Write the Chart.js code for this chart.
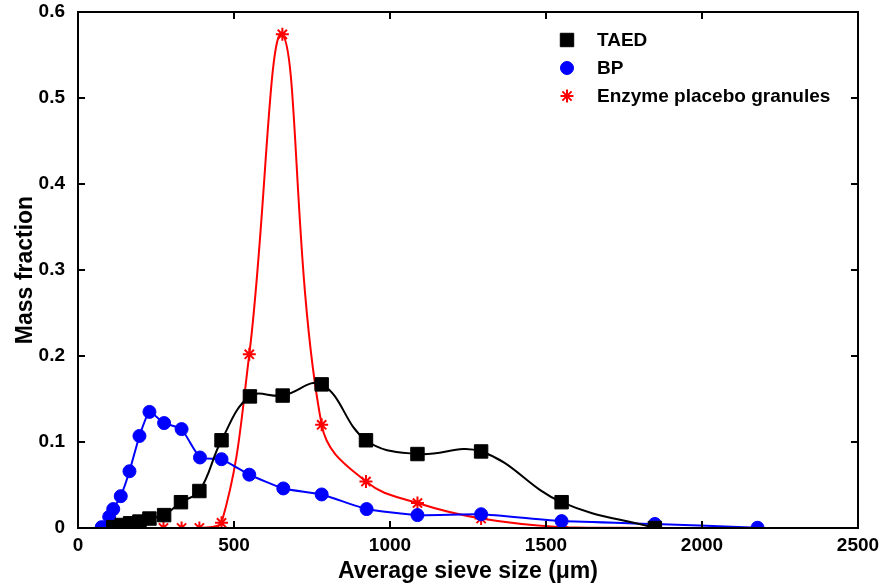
<!DOCTYPE html>
<html>
<head>
<meta charset="utf-8">
<script src="https://cdn.jsdelivr.net/npm/chart.js@4.4.1/dist/chart.umd.min.js"></script>
<style>
  body { margin: 0; background: #fff; }
  #wrap { width: 883px; height: 587px; }
</style>
</head>
<body>
<div id="wrap"><canvas id="grafico" width="883" height="587"></canvas></div>
<script>
// valori
const taedX = [113, 140, 167, 197, 229, 276, 330, 389, 460, 551, 656, 781, 923, 1088, 1292, 1550, 1849];
const taedY = [0.001, 0.0035, 0.0055, 0.0075, 0.011, 0.015, 0.030, 0.043, 0.102, 0.153, 0.154, 0.167, 0.102, 0.086, 0.089, 0.030, 0.0];

const bpX = [76, 100, 113, 137, 165, 197, 229, 276, 332, 391, 460, 549, 658, 781, 925, 1088, 1292, 1550, 1849, 2178];
const bpY = [0.001, 0.013, 0.022, 0.037, 0.066, 0.107, 0.135, 0.122, 0.115, 0.082, 0.080, 0.062, 0.046, 0.039, 0.022, 0.015, 0.016, 0.008, 0.0047, 0.0003];

const enzX = [274, 332, 389, 460, 549, 655, 781, 923, 1088, 1292, 1550, 1849];
const enzY = [0.0, 0.0, 0.0, 0.006, 0.202, 0.574, 0.120, 0.054, 0.029, 0.011, 0.001, 0.0];

const xTicks = [0, 500, 1000, 1500, 2000, 2500];
const yTicks = [0, 0.1, 0.2, 0.3, 0.4, 0.5, 0.6];

const nomi = ["TAED", "BP", "Enzyme placebo granules"];

function punti(xs, ys) {
    return xs.map(function (x, i) { return { x: x, y: ys[i] }; });
}

const FONT = "'Liberation Sans', Arial, sans-serif";

new Chart(document.getElementById("grafico"), {
    type: 'scatter',
    data: {
        datasets: [{
            label: nomi[0],
            data: punti(taedX, taedY),
            showLine: true,
            borderColor: '#000000',
            backgroundColor: '#000000',
            borderWidth: 2,
            tension: 0.4,
            pointStyle: 'rect',
            pointRadius: 9.5,
            pointBorderWidth: 1
        }, {
            label: nomi[1],
            data: punti(bpX, bpY),
            showLine: true,
            borderColor: '#0000ff',
            backgroundColor: '#0000ff',
            borderWidth: 2,
            tension: 0.15,
            pointStyle: 'circle',
            pointRadius: 6.5,
            pointBorderWidth: 1
        }, {
            label: nomi[2],
            data: punti(enzX, enzY),
            showLine: true,
            borderColor: '#ff0000',
            backgroundColor: '#ff0000',
            borderWidth: 2,
            tension: 0.4,
            pointStyle: 'star',
            pointRadius: 6.5,
            pointBorderWidth: 2
        }]
    },
    options: {
        responsive: false,
        animation: false,
        layout: { padding: { left: 0, right: 25, top: 12, bottom: 0 } },
        plugins: {
            legend: { display: false },
            tooltip: { enabled: false }
        },
        scales: {
            x: {
                type: 'linear',
                min: 0, max: 2500,
                afterBuildTicks: function (s) { s.ticks = xTicks.map(function (v) { return { value: v }; }); },
                afterFit: function (s) { s.height = 59; s.paddingLeft = 0; s.paddingRight = 0; },
                grid: { display: false, drawTicks: false },
                border: { display: false },
                ticks: {
                    color: '#000',
                    font: { family: FONT, size: 19, weight: 'bold' },
                    padding: 6,
                    maxRotation: 0,
                    callback: function (v) { return String(v); }
                },
                title: {
                    display: true,
                    text: 'Average sieve size (\u03bcm)',
                    color: '#000',
                    font: { family: FONT, size: 23, weight: 'bold' },
                    padding: { top: 0, bottom: 2 }
                }
            },
            y: {
                min: 0, max: 0.6,
                afterBuildTicks: function (s) { s.ticks = yTicks.map(function (v) { return { value: v }; }); },
                afterFit: function (s) { s.width = 78; s.paddingTop = 0; s.paddingBottom = 0; },
                grid: { display: false, drawTicks: false },
                border: { display: false },
                ticks: {
                    color: '#000',
                    font: { family: FONT, size: 19, weight: 'bold' },
                    padding: 13,
                    callback: function (v) { return v === 0 ? '0' : v.toFixed(1); }
                },
                title: {
                    display: true,
                    text: 'Mass fraction',
                    color: '#000',
                    font: { family: FONT, size: 23, weight: 'bold' },
                    padding: { top: 12, bottom: 0 }
                }
            }
        }
    },
    plugins: [{
        id: 'legenda',
        afterDraw(chart) {
            // legenda dentro il grafico, in alto a destra
            const ctx = chart.ctx;
            ctx.save();
            chart.data.datasets.forEach(function (ds, i) {
                const y = 40 + i * 28;
                ctx.fillStyle = ds.backgroundColor;
                ctx.strokeStyle = ds.borderColor;
                ctx.lineWidth = ds.pointBorderWidth;
                Chart.helpers.drawPoint(ctx, { pointStyle: ds.pointStyle, radius: ds.pointRadius, borderWidth: ds.pointBorderWidth }, 567, y);
            });
            ctx.font = 'bold 19px ' + FONT;
            ctx.textBaseline = 'middle';
            ctx.fillStyle = '#000';
            chart.data.datasets.forEach(function (ds, i) {
                ctx.fillText(ds.label, 597, 40 + i * 28 + 1);
            });
            ctx.restore();
        }
    }, {
        id: 'cornice',
        afterDraw(chart) {
            // box e tacche verso l'interno
            const ctx = chart.ctx;
            const a = chart.chartArea;
            const sx = chart.scales.x, sy = chart.scales.y;
            const L = 7;
            ctx.save();
            ctx.strokeStyle = '#000';
            ctx.lineWidth = 2;
            ctx.strokeRect(a.left, a.top, a.right - a.left, a.bottom - a.top);
            ctx.beginPath();
            xTicks.forEach(function (v) {
                const p = sx.getPixelForValue(v);
                ctx.moveTo(p, a.bottom); ctx.lineTo(p, a.bottom - L);
                ctx.moveTo(p, a.top); ctx.lineTo(p, a.top + L);
            });
            yTicks.forEach(function (v) {
                const p = sy.getPixelForValue(v);
                ctx.moveTo(a.left, p); ctx.lineTo(a.left + L, p);
                ctx.moveTo(a.right, p); ctx.lineTo(a.right - L, p);
            });
            ctx.stroke();
            ctx.restore();
        }
    }]
});
</script>
</body>
</html>
